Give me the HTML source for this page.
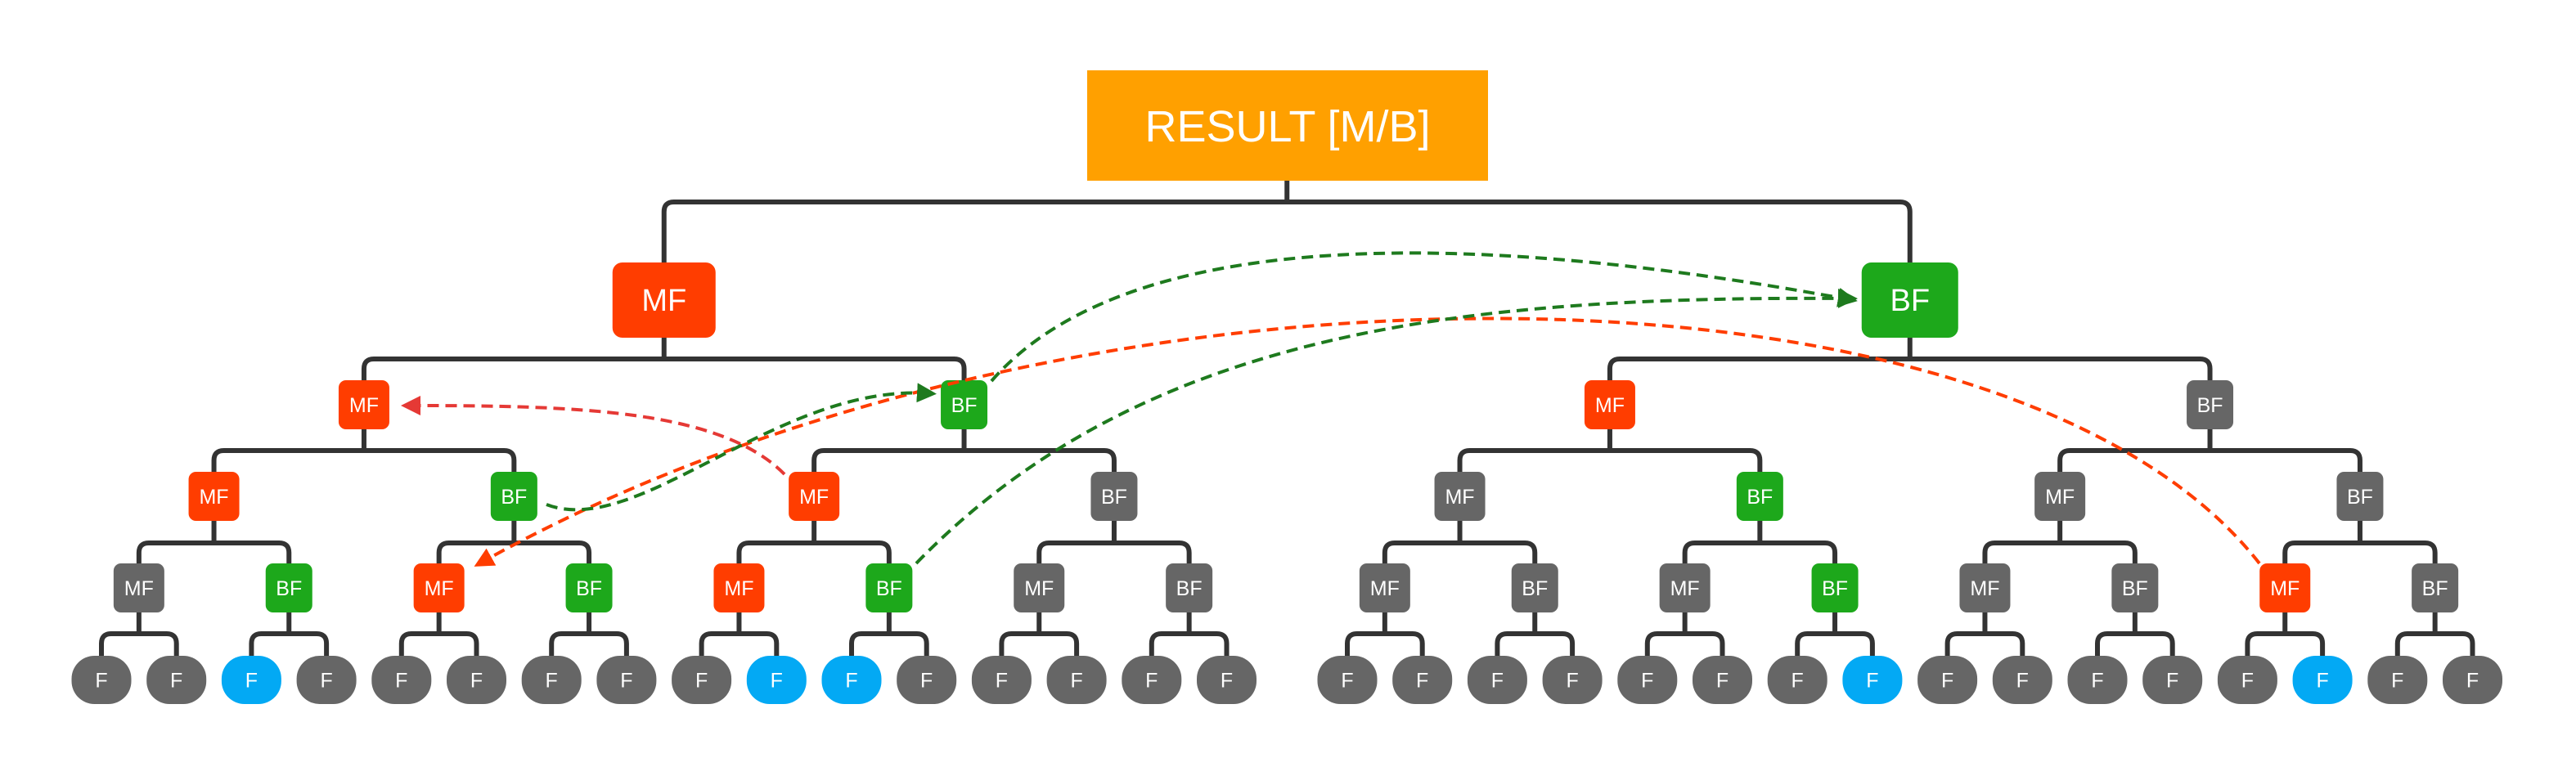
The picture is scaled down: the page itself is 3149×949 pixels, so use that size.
<!DOCTYPE html>
<html><head><meta charset="utf-8">
<style>
html,body{margin:0;padding:0;background:#fff;}
svg{display:block;}
text{font-family:"Liberation Sans",sans-serif;fill:#fff;text-anchor:middle;dominant-baseline:central;}
</style></head>
<body>
<svg id="chart" width="3149" height="949" viewBox="0 0 3149 949" xmlns="http://www.w3.org/2000/svg">
<defs>
<marker id="ar-red" markerWidth="6" markerHeight="6" refX="3" refY="3" orient="auto" markerUnits="strokeWidth"><path d="M0,0 L6,3 L0,6 z" fill="#E53935"/></marker>
<marker id="ar-or" markerWidth="6" markerHeight="6" refX="3" refY="3" orient="auto" markerUnits="strokeWidth"><path d="M0,0 L6,3 L0,6 z" fill="#FF3D00"/></marker>
<marker id="ar-gr" markerWidth="6" markerHeight="6" refX="3" refY="3" orient="auto" markerUnits="strokeWidth"><path d="M0,0 L6,3 L0,6 z" fill="#1E7A1E"/></marker>
</defs>
<g id="lines"></g>
<g id="nodes"></g>
<g id="arrows"></g>
</svg>
<script>
const C = {R:'#FF3D00', G:'#1DA81B', X:'#666666', B:'#03A9F4'};
const level1Colors = ['R','G'];
const level2Colors = ['R','G','R','X'];
const level3Colors = ['R','G','R','X','X','G','X','X'];
const level4Colors = ['X','G','R','G','R','G','X','X','X','X','X','G','X','X','R','X'];
const blueLeaves = [2,9,10,23,29];

const NS='http://www.w3.org/2000/svg';
const svg=document.getElementById('chart');
const gL=document.getElementById('lines'), gN=document.getElementById('nodes'), gA=document.getElementById('arrows');
function mk(tag,attrs,parent){const e=document.createElementNS(NS,tag);for(const k in attrs)e.setAttribute(k,attrs[k]);parent.appendChild(e);return e;}

const leafX=[];
for(let i=0;i<32;i++){leafX.push(i<16?124+91.7*i:1647+91.7*(i-16));}
const levels=[leafX];
let cur=leafX;
while(cur.length>1){const n=[];for(let i=0;i<cur.length;i+=2)n.push((cur[i]+cur[i+1])/2);levels.push(n);cur=n;}
const tops={4:321,3:465,2:577,1:689,0:802};
const heights={4:92,3:60,2:60,1:60,0:59};
const bars={5:247,4:439,3:551,2:664,1:775};

function connector(px,py0,by,cx1,cx2,cy){
  const r=12;
  const d=`M${px},${py0} L${px},${by} M${cx1},${cy} L${cx1},${by+r} Q${cx1},${by} ${cx1+r},${by} L${cx2-r},${by} Q${cx2},${by} ${cx2},${by+r} L${cx2},${cy}`;
  const p=mk('path',{d:d,fill:'none',stroke:'#333','stroke-width':6},gL);
  
  
}
connector(levels[5][0],221,bars[5],levels[4][0],levels[4][1],tops[4]);
for(let L=4;L>=1;L--){
  const par=levels[L],ch=levels[L-1];
  for(let i=0;i<par.length;i++){
    connector(par[i],tops[L]+heights[L],bars[L],ch[2*i],ch[2*i+1],tops[L-1]);
  }
}

const rg=mk('g',{},gN);


mk('rect',{x:1329,y:86,width:490,height:135,fill:'#FFA000'},rg);
const rt=mk('text',{x:1574,y:155,'font-size':54},rg);rt.textContent='RESULT [M/B]';

function node(x,top,w,h,r,color,label,fs,name){
  const g=mk('g',{},gN);
  
  
  mk('rect',{x:x-w/2,y:top,width:w,height:h,rx:r,ry:r,fill:C[color]},g);
  const t=mk('text',{x:x,y:top+h/2+1,'font-size':fs},g);t.textContent=label;
}
const colorSets={4:level1Colors,3:level2Colors,2:level3Colors,1:level4Colors};
for(let L=4;L>=1;L--){
  levels[L].forEach((x,i)=>{
    const lab=i%2===0?'MF':'BF';
    const big=L===4;
    const w=big?(lab==='MF'?126:118):(lab==='MF'?62:57);
    node(x,tops[L],w,heights[L],big?12:9,colorSets[L][i],lab,big?38:25,(lab==='MF'?'mf':'bf')+'-node-level'+(5-L));
  });
}
leafX.forEach((x,i)=>{
  node(x,tops[0],73,59,28,blueLeaves.includes(i)?'B':'X','F',25,'leaf-node');
});

const arrows=[
 {d:'M959,580 C880,500 700,496 502,496',c:'#E53935',m:'ar-red'},
 {d:'M2762,689 C2450,290 1300,290 590,687',c:'#FF3D00',m:'ar-or'},
 {d:'M668,617 C780,660 950,470 1133,481',c:'#1E7A1E',m:'ar-gr'},
 {d:'M1212,466 C1400,250 1900,300 2259,366',c:'#1E7A1E',m:'ar-gr'},
 {d:'M1120,689 C1400,400 1800,362 2259,365',c:'#1E7A1E',m:'ar-gr'}
];
arrows.forEach(a=>{
  const p=mk('path',{d:a.d,fill:'none',stroke:a.c,'stroke-width':4,'stroke-dasharray':'14 8','marker-end':`url(#${a.m})`},gA);
  
  
});
</script>
</body></html>
